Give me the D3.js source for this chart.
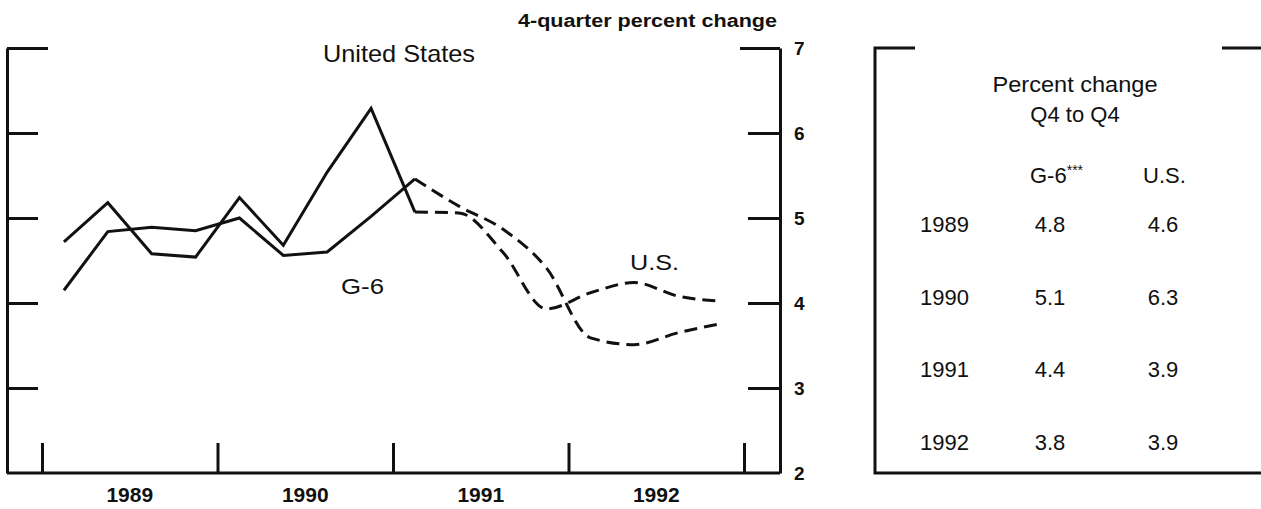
<!DOCTYPE html>
<html>
<head>
<meta charset="utf-8">
<script src="https://cdn.jsdelivr.net/npm/d3@7"></script>
<style>
    body { margin: 0; background: #fff; }
    svg { display: block; font-family: "Liberation Sans", Arial, sans-serif; }
    text { fill: #111; }
</style>
</head>
<body>
<div id="viz_canvas"></div>
<script>
"use strict";

// quarterly 4-quarter percent change, 1989Q1 .. 1992Q4
var years = ["1989", "1990", "1991", "1992"];
var usGrowth = [4.72, 5.18, 4.58, 4.54, 5.24, 4.68, 5.54, 6.29, 5.07, 5.06, 4.60, 3.93, 4.12, 4.24, 4.08, 4.02];
var g6Growth = [4.15, 4.84, 4.89, 4.85, 5.00, 4.56, 4.60, 5.02, 5.46, 5.14, 4.87, 4.41, 3.59, 3.51, 3.65, 3.76];
var lastActual = 8; // 1991Q1, projections are dashed after this
var yTicks = [2, 3, 4, 5, 6, 7];

// table at the right
var tableYears = ["1989", "1990", "1991", "1992"];
var tableG6 = ["4.8", "5.1", "4.4", "3.8"];
var tableUS = ["4.6", "6.3", "3.9", "3.9"];

var width = 1261, height = 509;
var svg = d3.select("#viz_canvas").append("svg")
    .attr("width", width)
    .attr("height", height);

var x = d3.scaleLinear().domain([0, 16]).range([42, 744]);
var y = d3.scaleLinear().domain([2, 7]).range([473, 48]);
var frameLeft = 7, frameRight = 780;
var ink = "#111";

function drawFrame() {
    var g = svg.append("g").attr("class", "frame");

    // left axis, ticks point inward, no labels
    var left = g.append("g")
        .attr("transform", "translate(" + frameLeft + ",0)")
        .call(d3.axisLeft(y).tickValues(yTicks.slice(1)).tickSize(-31).tickSizeOuter(0).tickFormat(""));
    left.selectAll("line").filter(function (d) { return d === 7; }).attr("x2", 41);

    // right axis with the labels
    var right = g.append("g")
        .attr("transform", "translate(" + frameRight + ",0)")
        .call(d3.axisRight(y).tickValues(yTicks).tickSize(-32).tickSizeOuter(0).tickPadding(14)
            .tickFormat(d3.format("d")));
    right.selectAll("line").filter(function (d) { return d === 7; }).attr("x2", -40);
    right.selectAll("line").filter(function (d) { return d === 2; }).remove();
    right.selectAll("text")
        .attr("font-size", 19)
        .attr("font-weight", "bold")
        .attr("font-family", "Liberation Sans, Arial, sans-serif");

    // bottom axis: year boundaries, ticks upward
    var bottom = g.append("g")
        .attr("transform", "translate(0," + y(2) + ")")
        .call(d3.axisBottom(x).tickValues([0, 4, 8, 12, 16]).tickSize(-30).tickSizeOuter(0).tickFormat(""));
    bottom.select(".domain").remove();
    g.append("line")
        .attr("x1", frameLeft).attr("x2", frameRight)
        .attr("y1", y(2)).attr("y2", y(2));

    g.selectAll(".domain").attr("stroke", ink).attr("stroke-width", 3);
    g.selectAll("line").attr("stroke", ink).attr("stroke-width", 3);

    g.selectAll("text.year")
        .data(years)
        .enter().append("text")
        .attr("class", "year")
        .attr("x", function (d, i) { return x(i * 4 + 2); })
        .attr("y", 502)
        .attr("text-anchor", "middle")
        .attr("font-size", 21)
        .attr("font-weight", "bold")
        .text(function (d) { return d; });
}

function drawSeries(values) {
    var pts = values.map(function (v, i) { return { i: i, v: v }; });
    var line = d3.line()
        .x(function (d) { return x(d.i + 0.5); })
        .y(function (d) { return y(d.v); });

    svg.append("path")
        .datum(pts.slice(0, lastActual + 1))
        .attr("d", line)
        .attr("fill", "none")
        .attr("stroke", ink)
        .attr("stroke-width", 3)
        .attr("stroke-linejoin", "miter");

    svg.append("path")
        .datum(pts.slice(lastActual))
        .attr("d", line.curve(d3.curveMonotoneX))
        .attr("fill", "none")
        .attr("stroke", ink)
        .attr("stroke-width", 3)
        .attr("stroke-dasharray", "13,7");
}

function drawLabels() {
    svg.append("text")
        .attr("x", 777).attr("y", 27)
        .attr("text-anchor", "end")
        .attr("font-size", 18)
        .attr("font-weight", "bold")
        .attr("textLength", 259)
        .attr("lengthAdjust", "spacingAndGlyphs")
        .text("4-quarter percent change");

    svg.append("text")
        .attr("x", 323).attr("y", 62)
        .attr("font-size", 24)
        .attr("textLength", 152)
        .attr("lengthAdjust", "spacingAndGlyphs")
        .text("United States");

    svg.append("text")
        .attr("x", 341).attr("y", 294)
        .attr("font-size", 22)
        .attr("textLength", 43)
        .attr("lengthAdjust", "spacingAndGlyphs")
        .text("G-6");

    svg.append("text")
        .attr("x", 630).attr("y", 270)
        .attr("font-size", 22)
        .attr("textLength", 49)
        .attr("lengthAdjust", "spacingAndGlyphs")
        .text("U.S.");
}

function drawTable() {
    var g = svg.append("g").attr("class", "table");
    var tLeft = 875, tTop = 48, tBottom = 473;

    g.append("path")
        .attr("d", "M" + (tLeft + 40) + "," + tTop + "H" + tLeft + "V" + tBottom + "H" + width)
        .attr("fill", "none")
        .attr("stroke", ink)
        .attr("stroke-width", 3);
    g.append("line")
        .attr("x1", 1222).attr("x2", width)
        .attr("y1", tTop).attr("y2", tTop)
        .attr("stroke", ink)
        .attr("stroke-width", 3);

    g.append("text")
        .attr("x", 1075).attr("y", 92)
        .attr("text-anchor", "middle")
        .attr("font-size", 22)
        .attr("textLength", 165)
        .attr("lengthAdjust", "spacingAndGlyphs")
        .text("Percent change");
    g.append("text")
        .attr("x", 1075).attr("y", 122)
        .attr("text-anchor", "middle")
        .attr("font-size", 22)
        .text("Q4 to Q4");

    var head = g.append("text")
        .attr("x", 1030).attr("y", 183)
        .attr("font-size", 22);
    head.append("tspan").text("G-6");
    head.append("tspan").attr("font-size", 14).attr("dy", -8).text("***");
    g.append("text")
        .attr("x", 1143).attr("y", 183)
        .attr("font-size", 22)
        .text("U.S.");

    var rowY = d3.scalePoint().domain(tableYears).range([232, 450]);

    var rows = g.selectAll("g.row")
        .data(tableYears)
        .enter().append("g")
        .attr("class", "row")
        .attr("transform", function (d) { return "translate(0," + rowY(d) + ")"; });

    rows.append("text")
        .attr("x", 920)
        .attr("font-size", 22)
        .text(function (d) { return d; });
    rows.append("text")
        .attr("x", 1050)
        .attr("text-anchor", "middle")
        .attr("font-size", 22)
        .text(function (d, i) { return tableG6[i]; });
    rows.append("text")
        .attr("x", 1163)
        .attr("text-anchor", "middle")
        .attr("font-size", 22)
        .text(function (d, i) { return tableUS[i]; });
}

drawFrame();
drawSeries(usGrowth);
drawSeries(g6Growth);
drawLabels();
drawTable();
</script>
</body>
</html>
